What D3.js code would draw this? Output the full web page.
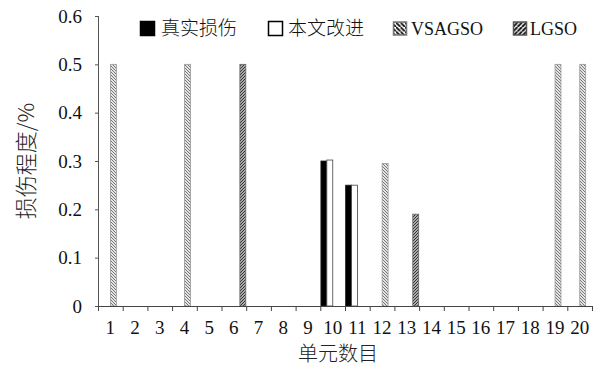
<!DOCTYPE html>
<html><head><meta charset="utf-8">
<script src="https://cdn.jsdelivr.net/npm/d3@7"></script>
<style>html,body{margin:0;padding:0;background:#fff;}svg{display:block;}</style>
</head><body>
<svg id="c" width="604" height="368"></svg>
<script>
const elements = d3.range(1, 21).map(String);
const seriesNames = ["真实损伤", "本文改进", "VSAGSO", "LGSO"];
const trueDamage = [0,0,0,0,0,0,0,0,0,0.30,0.25,0,0,0,0,0,0,0,0,0];
const improved   = [0,0,0,0,0,0,0,0,0,0.302,0.25,0,0,0,0,0,0,0,0,0];
const vsagso     = [0.5,0,0,0.5,0,0,0,0,0,0,0,0.295,0,0,0,0,0,0,0.5,0.5];
const lgso       = [0,0,0,0,0,0.5,0,0,0,0,0,0,0.19,0,0,0,0,0,0,0];
const yTicks = [0, 0.1, 0.2, 0.3, 0.4, 0.5, 0.6];
const yTitle = "损伤程度/%";
const xTitle = "单元数目";

const allSeries = [trueDamage, improved, vsagso, lgso];
const svg = d3.select("#c");
const serif = "'Liberation Serif','Times New Roman',serif";
const cjk = "'Noto Sans CJK SC','Noto Sans',sans-serif";

const defs = svg.append("defs");
function hatch(id, size, bg, fg, sw, dir) {
  const p = defs.append("pattern").attr("id", id).attr("patternUnits", "userSpaceOnUse")
    .attr("width", size).attr("height", size);
  p.append("rect").attr("width", size).attr("height", size).attr("fill", bg);
  const d = dir === "back"
    ? `M0,0L${size},${size}M${-size},0L0,${size}M${size},${-size}L${2*size},${size}`
    : `M0,${size}L${size},0M${-size},${size}L0,0M${size},${size}L${2*size},0`;
  p.append("path").attr("d", d).attr("stroke", fg).attr("stroke-width", sw);
}
hatch("hv", 3, "#e4e4e4", "#777", 1, "back");
hatch("hl", 3, "#aaa", "#333", 1, "fwd");
hatch("lv", 4.5, "#fff", "#111", 1.8, "back");
hatch("ll", 4.5, "#fff", "#111", 2, "fwd");

const x0 = 98, x1 = 592, yTop = 16, yBot = 306;
const x = d3.scaleBand().domain(elements).range([x0, x1]).paddingInner(0).paddingOuter(0);
const xs = d3.scaleBand().domain(seriesNames).range([0.6, x.bandwidth() - 0.4]).padding(0);
const y = d3.scaleLinear().domain([0, 0.6]).range([yBot, yTop]);
const xLin = d3.scaleLinear().domain([0, 20]).range([x0, x1]);

const fills = ["#000", "#fff", "url(#hv)", "url(#hl)"];
const strokes = ["#222", "#444", "#999", "#666"];

// bars
seriesNames.forEach((s, si) => {
  const data = elements.map((e, i) => ({e, v: allSeries[si][i]})).filter(d => d.v > 0);
  svg.append("g").selectAll("rect").data(data).join("rect")
    .attr("x", d => x(d.e) + xs(s))
    .attr("y", d => y(d.v))
    .attr("width", xs.bandwidth())
    .attr("height", d => yBot - y(d.v))
    .attr("fill", fills[si])
    .attr("stroke", strokes[si])
    .attr("stroke-width", 0.8);
});

// y axis
const ya = svg.append("g").attr("transform", `translate(${x0},0)`)
  .call(d3.axisLeft(y).tickValues(yTicks).tickSize(3).tickPadding(13)
    .tickFormat(d => d === 0 ? "0" : d3.format(".1f")(d)));
ya.selectAll("path,line").attr("stroke", "#555");
ya.select(".domain").attr("d", `M0.5,${yTop}V${yBot}`);
ya.selectAll("text").attr("font-family", serif).attr("font-size", 19).attr("fill", "#111");

// x axis boundary ticks
const xa = svg.append("g").attr("transform", `translate(0,${yBot})`)
  .call(d3.axisBottom(xLin).tickValues(d3.range(0, 21)).tickSize(5).tickFormat(""));
xa.selectAll("path,line").attr("stroke", "#444");
xa.select(".domain").attr("d", `M${x0},0.5H${x1}`);
// x labels
const xl = svg.append("g").attr("transform", `translate(0,${yBot})`)
  .call(d3.axisBottom(x).tickSize(0).tickPadding(15));
xl.select(".domain").remove();
xl.selectAll("text").attr("font-family", serif).attr("font-size", 19).attr("fill", "#111");

// axis titles
svg.append("text").attr("transform", `translate(34,${161}) rotate(-90)`)
  .attr("text-anchor", "middle").attr("font-family", cjk).attr("font-size", 22)
  .attr("font-weight", 300).attr("fill", "#222").text(yTitle);
svg.append("text").attr("x", 338).attr("y", 361).attr("text-anchor", "middle")
  .attr("font-family", cjk).attr("font-size", 20).attr("font-weight", 300)
  .attr("fill", "#222").text(xTitle);

// legend
const legItems = [
  {name: seriesNames[0], sx: 140, tx: 161, fill: "#000", stroke: "#000", font: cjk, fs: 19},
  {name: seriesNames[1], sx: 268, tx: 288, fill: "#fff", stroke: "#000", font: cjk, fs: 19},
  {name: seriesNames[2], sx: 393, tx: 411, fill: "url(#lv)", stroke: "#777", font: serif, fs: 18},
  {name: seriesNames[3], sx: 513, tx: 530, fill: "url(#ll)", stroke: "#555", font: serif, fs: 18}
];
const lg = svg.append("g");
legItems.forEach(it => {
  const sw = it.font === cjk ? 14 : 13;
  lg.append("rect").attr("x", it.sx + 0.5).attr("y", 28 - sw / 2 + 0.5).attr("width", sw).attr("height", sw)
    .attr("fill", it.fill).attr("stroke", it.stroke).attr("stroke-width", 1.5);
  lg.append("text").attr("x", it.tx).attr("y", 35).attr("font-family", it.font)
    .attr("font-size", it.fs).attr("font-weight", it.font === cjk ? 300 : 400)
    .attr("fill", "#111").text(it.name);
});
</script>
</body></html>
